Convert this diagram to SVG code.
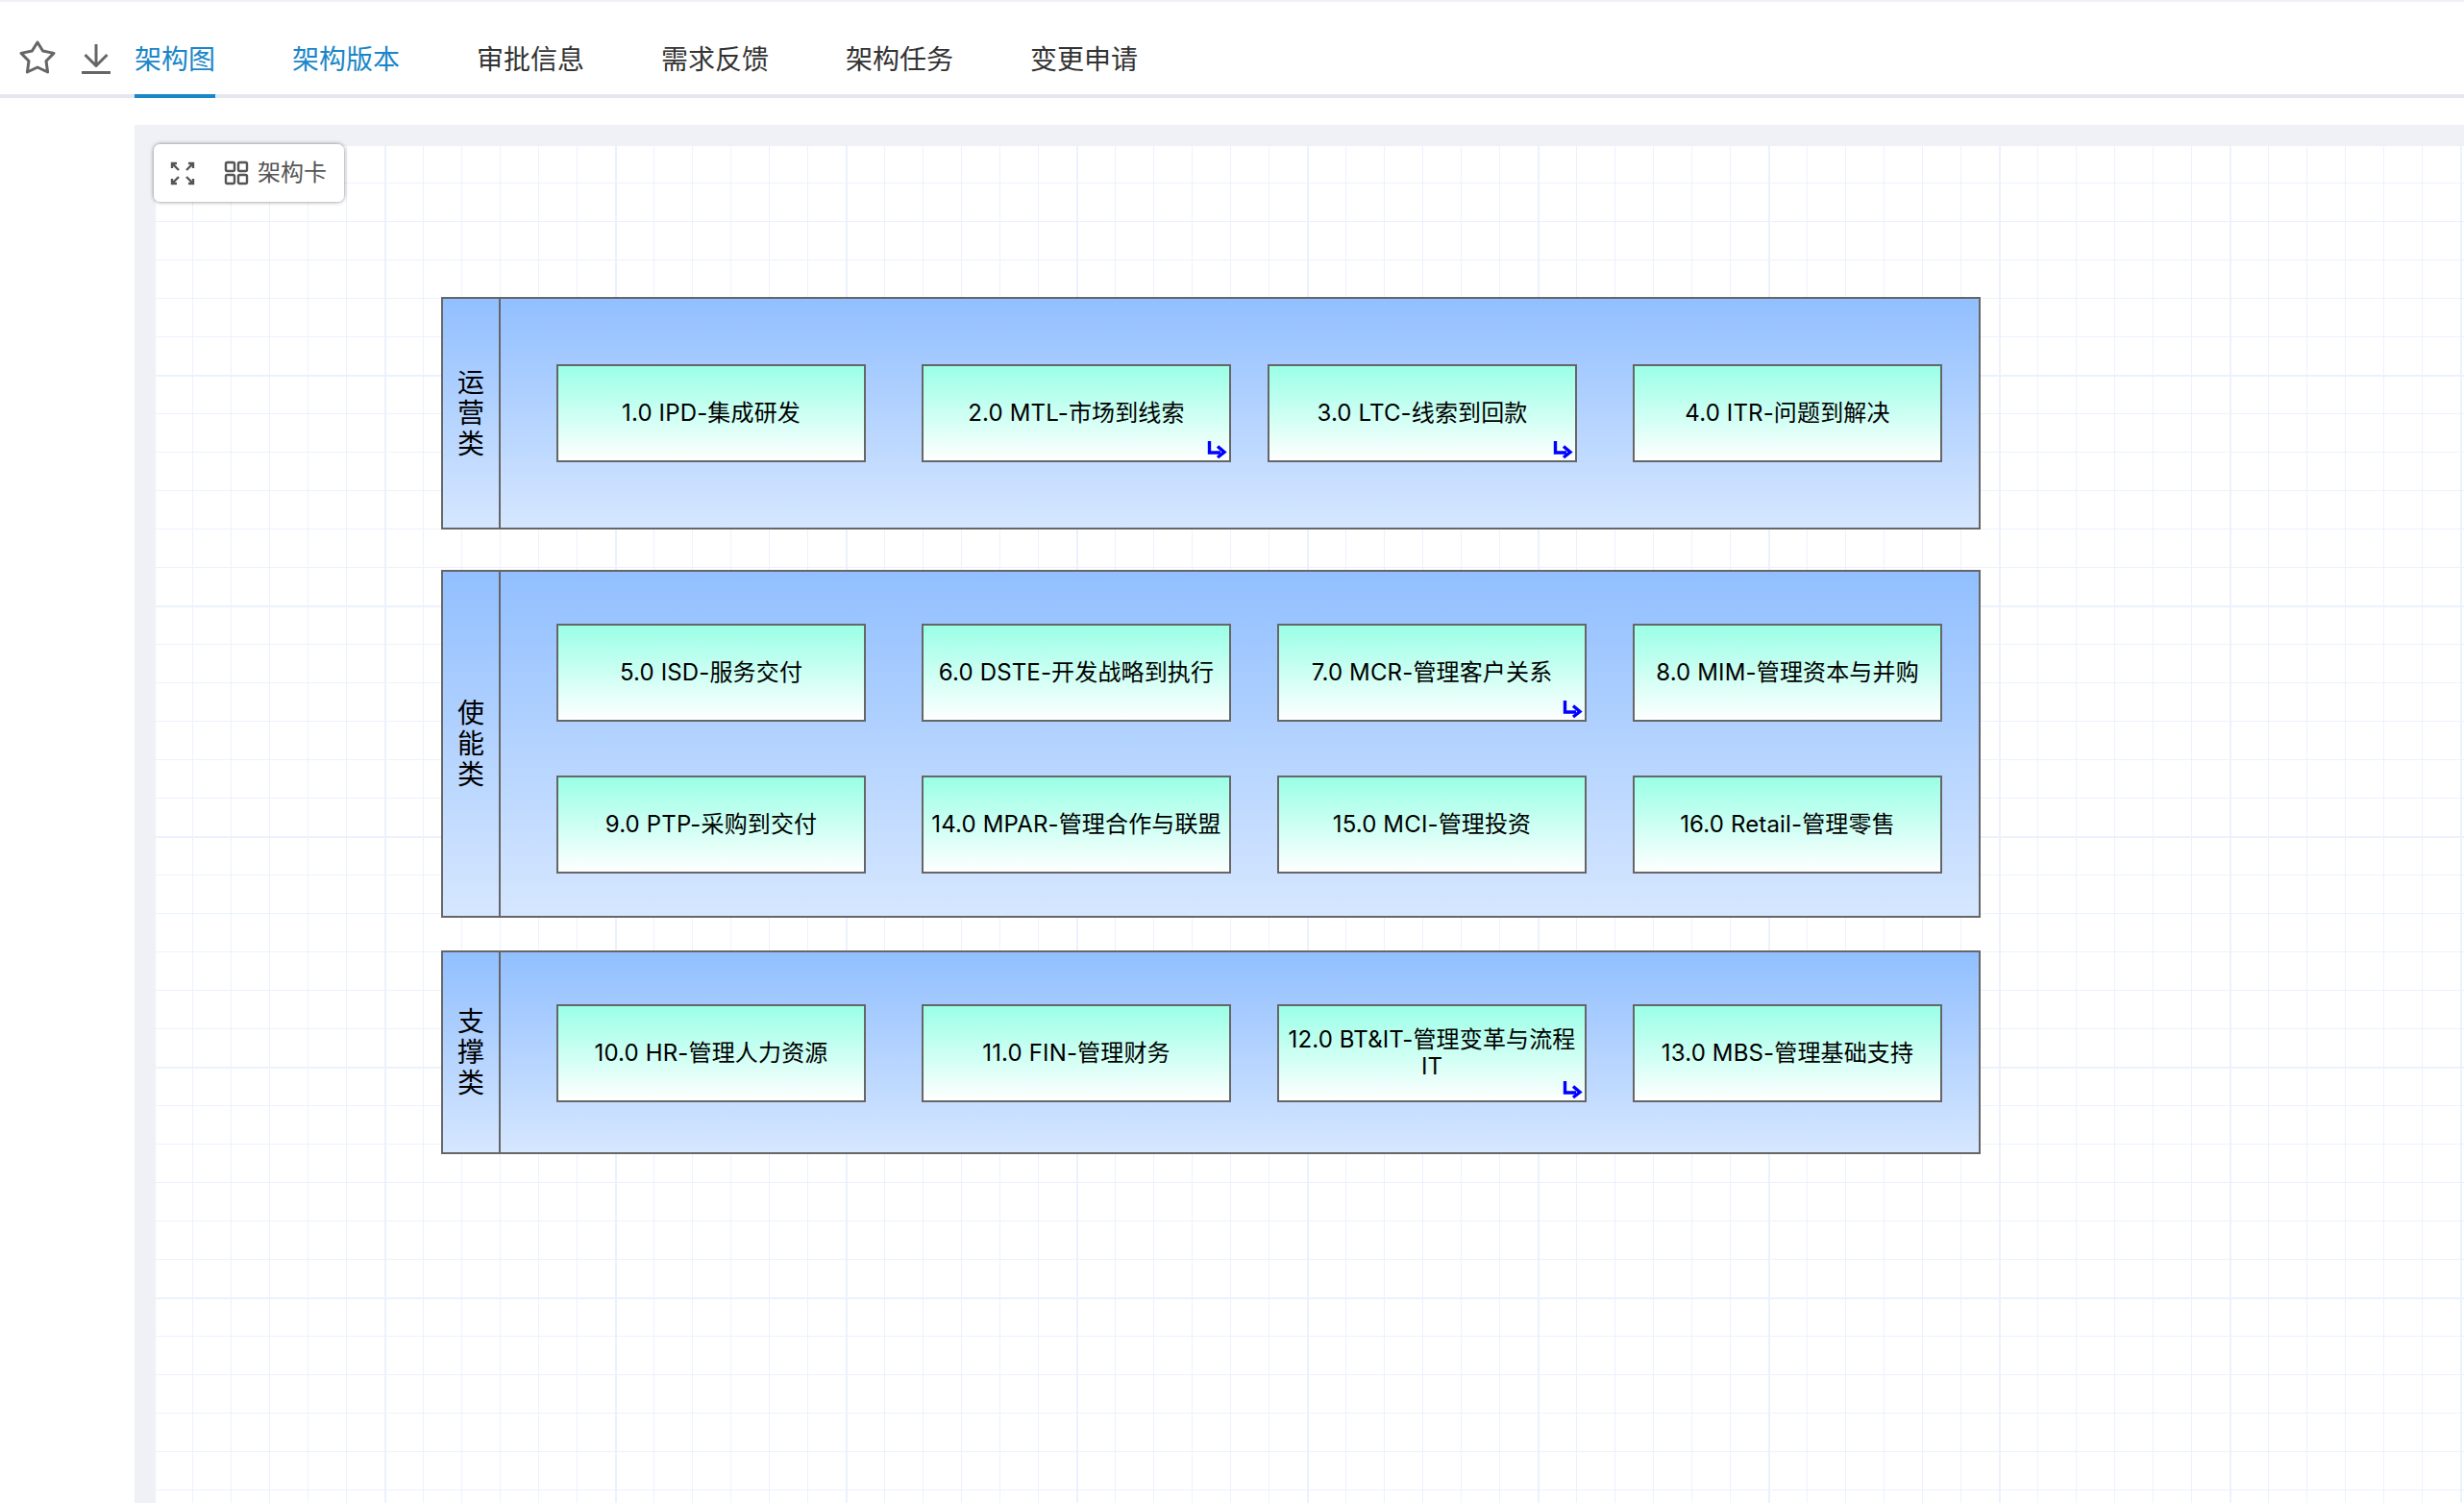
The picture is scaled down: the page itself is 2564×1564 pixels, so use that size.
<svg xmlns="http://www.w3.org/2000/svg" width="2564" height="1564" viewBox="0 0 2564 1564">
<style>
text{font-family:"Inter","Noto Sans CJK SC",sans-serif}
.tab{font-size:28px;fill:#333;font-family:"Noto Sans CJK SC",sans-serif}
.act{fill:#1a86c8}
.frame{fill:url(#lane);stroke:#666;stroke-width:2}
.div{stroke:#666;stroke-width:2;fill:none}
.box{fill:url(#node);stroke:#666;stroke-width:2}
.lbl{font-size:24px;fill:#000;text-anchor:middle;letter-spacing:.15px}
.lane{font-size:28px;fill:#000;text-anchor:middle;writing-mode:vertical-rl;letter-spacing:4px;font-family:"Noto Sans CJK SC",sans-serif}
.ico{fill:none;stroke:#666;stroke-width:3;stroke-linejoin:round;stroke-linecap:round}
.ico2{fill:none;stroke:#555;stroke-width:2.4}
</style>
<defs>
<linearGradient id="lane" x1="0" y1="0" x2="0" y2="1"><stop offset="0" stop-color="#91bfff"/><stop offset="1" stop-color="#d6e7ff"/></linearGradient>
<linearGradient id="node" x1="0" y1="0" x2="0" y2="1"><stop offset="0" stop-color="#99ffe6"/><stop offset="1" stop-color="#ffffff"/></linearGradient>
<pattern id="grid" patternUnits="userSpaceOnUse" x="400" y="150" width="240" height="240">
<rect width="240" height="240" fill="#fff"/>
<g fill="#ecf2fd"><rect x="40" width="1" height="240"/><rect x="80" width="1" height="240"/><rect x="120" width="1" height="240"/><rect x="160" width="1" height="240"/><rect x="200" width="1" height="240"/>
<rect y="40" width="240" height="1"/><rect y="80" width="240" height="1"/><rect y="120" width="240" height="1"/><rect y="160" width="240" height="1"/><rect y="200" width="240" height="1"/>
<rect width="2" height="240"/><rect width="240" height="2"/></g>
</pattern>
<filter id="sh" x="-10%" y="-20%" width="120%" height="140%"><feDropShadow dx="0" dy="0" stdDeviation="2" flood-color="#000" flood-opacity="0.5"/></filter>
<g id="mark"><path d="M-21.500-21V-9H-10" fill="none" stroke="#00f" stroke-width="3.4"/><path d="M-13-15.500L-6-9.500L-13-4" fill="none" stroke="#00f" stroke-width="3.400"/></g>
</defs>

<rect width="2564" height="1564" fill="#fff"/>
<rect width="2564" height="2" fill="#f0f1f6"/>

<g id="toolbar">
<path class="ico" d="M39 44L44.6 53L56 55.4L48 63.5L49.6 75L39 70L28.4 75L30 63.5L22 55.4L33.4 53Z"/>
<path class="ico" style="stroke-linecap:butt" d="M100 46V68M88.500 57L100 68.500L111.500 57M85 75.500H115"/>
</g>
<g id="tabs">
<rect x="0" y="98" width="2564" height="4" fill="#e4e7ee"/>
<rect x="140" y="98" width="84" height="4" fill="#1a86c8"/>
<text class="tab act" x="140" y="72">架构图</text>
<text class="tab act" x="304" y="72">架构版本</text>
<text class="tab" x="496" y="72">审批信息</text>
<text class="tab" x="688" y="72">需求反馈</text>
<text class="tab" x="880" y="72">架构任务</text>
<text class="tab" x="1072" y="72">变更申请</text>
</g>

<g id="canvas">
<rect x="140" y="130" width="2424" height="1434" fill="#eff1f6"/>
<rect x="162" y="152" width="2402" height="1412" fill="url(#grid)"/>
</g>

<g id="card">
<rect x="160" y="150" width="198" height="60" rx="7" fill="#fff" filter="url(#sh)"/>
<path class="ico2" d="M179 170L186 177M179 175V170H184M201 170L194 177M201 175V170H196M179 191L186 184M179 186V191H184M201 191L194 184M201 186V191H196"/>
<rect class="ico2" x="235" y="169" width="9" height="9" rx="1.500"/><rect class="ico2" x="248" y="169" width="9" height="9" rx="1.500"/>
<rect class="ico2" x="235" y="182" width="9" height="9" rx="1.500"/><rect class="ico2" x="248" y="182" width="9" height="9" rx="1.500"/>
<text x="268" y="188" font-size="24" fill="#555" style="font-family:'Noto Sans CJK SC',sans-serif">架构卡</text>
</g>

<g id="lane-ops">
<rect class="frame" x="460" y="310" width="1600" height="240"/><path class="div" d="M520 310V550"/>
<text class="lane" x="490" y="431">运营类</text>
</g>
<g id="lane-enable">
<rect class="frame" x="460" y="594" width="1600" height="360"/><path class="div" d="M520 594V954"/>
<text class="lane" x="490" y="775">使能类</text>
</g>
<g id="lane-support">
<rect class="frame" x="460" y="990" width="1600" height="210"/><path class="div" d="M520 990V1200"/>
<text class="lane" x="490" y="1096">支撑类</text>
</g>

<g id="n1"><rect class="box" x="580" y="380" width="320" height="100"/><text class="lbl" x="740" y="438">1.0 IPD-集成研发</text></g>
<g id="n2"><rect class="box" x="960" y="380" width="320" height="100"/><text class="lbl" x="1120" y="438">2.0 MTL-市场到线索</text><use href="#mark" x="1280" y="480"/></g>
<g id="n3"><rect class="box" x="1320" y="380" width="320" height="100"/><text class="lbl" x="1480" y="438">3.0 LTC-线索到回款</text><use href="#mark" x="1640" y="480"/></g>
<g id="n4"><rect class="box" x="1700" y="380" width="320" height="100"/><text class="lbl" x="1860" y="438">4.0 ITR-问题到解决</text></g>

<g id="n5"><rect class="box" x="580" y="650" width="320" height="100"/><text class="lbl" x="740" y="708">5.0 ISD-服务交付</text></g>
<g id="n6"><rect class="box" x="960" y="650" width="320" height="100"/><text class="lbl" x="1120" y="708">6.0 DSTE-开发战略到执行</text></g>
<g id="n7"><rect class="box" x="1330" y="650" width="320" height="100"/><text class="lbl" x="1490" y="708">7.0 MCR-管理客户关系</text><use href="#mark" x="1650" y="750"/></g>
<g id="n8"><rect class="box" x="1700" y="650" width="320" height="100"/><text class="lbl" x="1860" y="708">8.0 MIM-管理资本与并购</text></g>

<g id="n9"><rect class="box" x="580" y="808" width="320" height="100"/><text class="lbl" x="740" y="866">9.0 PTP-采购到交付</text></g>
<g id="n14"><rect class="box" x="960" y="808" width="320" height="100"/><text class="lbl" x="1120" y="866">14.0 MPAR-管理合作与联盟</text></g>
<g id="n15"><rect class="box" x="1330" y="808" width="320" height="100"/><text class="lbl" x="1490" y="866">15.0 MCI-管理投资</text></g>
<g id="n16"><rect class="box" x="1700" y="808" width="320" height="100"/><text class="lbl" x="1860" y="866">16.0 Retail-管理零售</text></g>

<g id="n10"><rect class="box" x="580" y="1046" width="320" height="100"/><text class="lbl" x="740" y="1104">10.0 HR-管理人力资源</text></g>
<g id="n11"><rect class="box" x="960" y="1046" width="320" height="100"/><text class="lbl" x="1120" y="1104">11.0 FIN-管理财务</text></g>
<g id="n12"><rect class="box" x="1330" y="1046" width="320" height="100"/><text class="lbl" x="1490" y="1090">12.0 BT&amp;IT-管理变革与流程</text><text class="lbl" x="1490" y="1118">IT</text><use href="#mark" x="1650" y="1146"/></g>
<g id="n13"><rect class="box" x="1700" y="1046" width="320" height="100"/><text class="lbl" x="1860" y="1104">13.0 MBS-管理基础支持</text></g>
</svg>
